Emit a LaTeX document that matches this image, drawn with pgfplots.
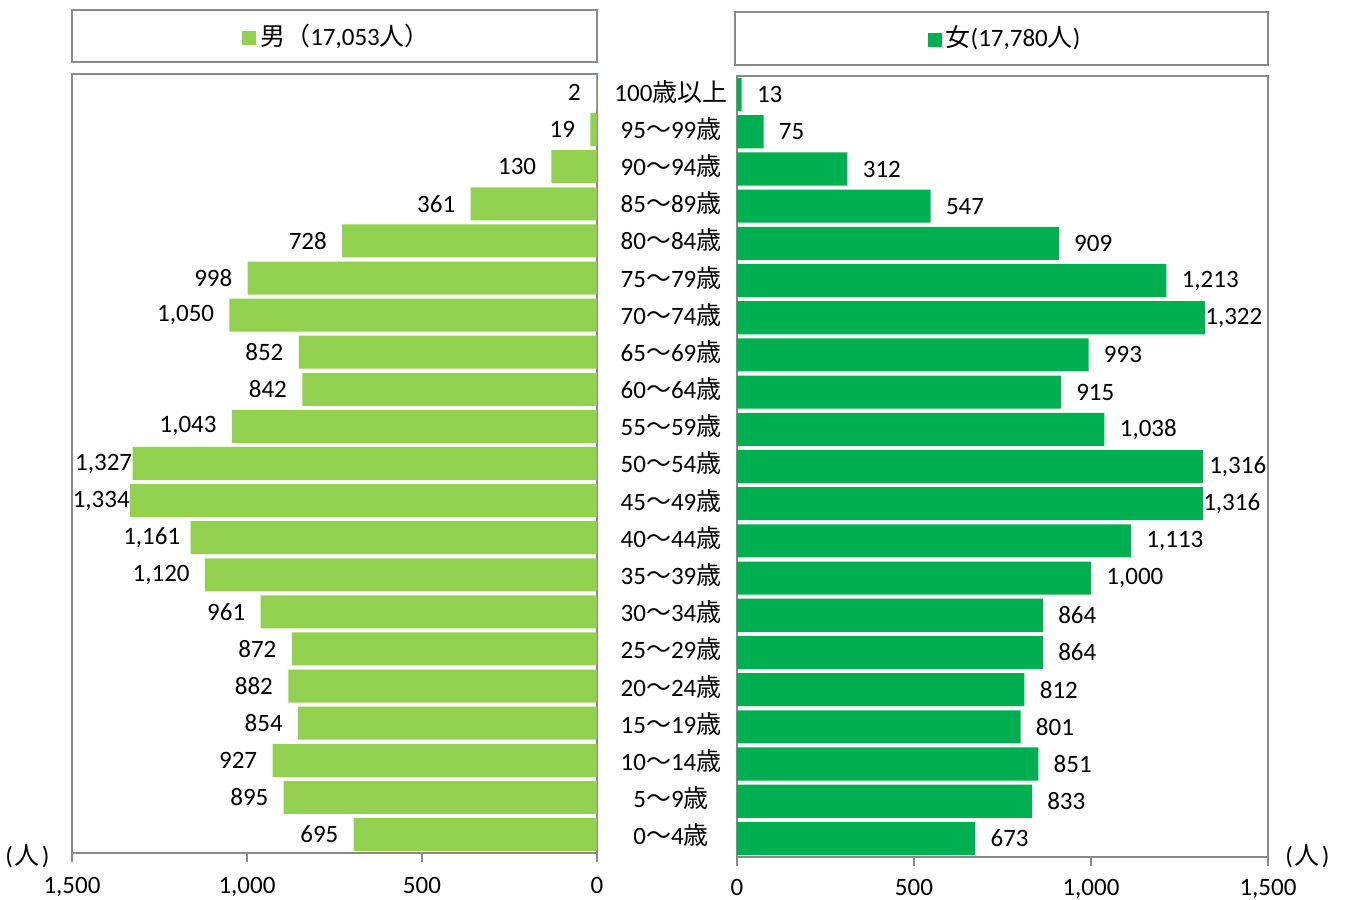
\documentclass[border=0pt]{standalone}
\usepackage{pgfplots}
\usepackage{pgfplotstable}
\pgfplotsset{compat=1.18}
\usepackage{fontspec}
\setmainfont{Carlito}
\newfontfamily\jp{Noto Sans CJK JP}
\definecolor{male}{HTML}{92D050}
\definecolor{female}{HTML}{00B050}
\definecolor{frame}{HTML}{898989}
\newcommand\f{\fontsize{12.5}{15}\selectfont}
\newcommand\sai{{\jp 歳}}
\newcommand\kara{{\jp ～}}

% idx 0 = 0-4 years, ..., 20 = 100 and over
\pgfplotstableread{
idx male female
0  695  673
1  895  833
2  927  851
3  854  801
4  882  812
5  872  864
6  961  864
7  1120 1000
8  1161 1113
9  1334 1316
10 1327 1316
11 1043 1038
12 842  915
13 852  993
14 1050 1322
15 998  1213
16 728  909
17 361  547
18 130  312
19 19   75
20 2    13
}\pop

\pgfplotsset{
  pyr/.style={
    scale only axis, xbar, bar width=0.89,
    ymin=-0.5, ymax=20.5, xmin=0, xmax=1500,
    axis line style={frame, line width=1pt},
    xtick={0,500,1000,1500}, xtick pos=bottom, tick align=outside,
    major tick length=4.5pt,
    xtick style={frame, line width=1pt},
    ytick style={draw=none},
    xticklabel style={font=\f, yshift=-3.5pt},
    /pgf/number format/1000 sep={,},
    /pgf/number format/assume math mode=true,
    nodes near coords,
    every node near coord/.append style={font=\f, inner sep=0pt, text=black},
  }
}

\begin{document}
\f
\begin{tikzpicture}[x=1pt,y=1pt]
\path[use as bounding box] (0,0) rectangle (672.5,450);

% headers
\draw[frame, line width=1pt] (36,419) rectangle (298.5,445);
\node[anchor=center] at (168,432) {\textcolor{male}{\rule{7pt}{7pt}}\,{\jp 男（}17,053{\jp 人）}};
\draw[frame, line width=1pt] (367.5,417.5) rectangle (634,444);
\node[anchor=center] at (502,431) {\textcolor{female}{\rule{7pt}{7pt}}\,{\jp 女}(17,780{\jp 人})};

% male
\begin{axis}[pyr, at={(36pt,23.5pt)}, anchor=south west,
  width=262.5pt, height=389.5pt, x dir=reverse, ytick=\empty]
\addplot[fill=male, draw=none, point meta=x,
  every node near coord/.append style={anchor=east, xshift=-7.5pt},
  coordinate style/.condition={\coordindex==9 || \coordindex==10}{xshift=7.5pt},
  coordinate style/.condition={\coordindex==8}{xshift=2.5pt}]
  table[x=male, y=idx] \pop;
\end{axis}

% female
\begin{axis}[pyr, at={(368.5pt,21.5pt)}, anchor=south west,
  width=265.5pt, height=390.5pt,
  xticklabel style={yshift=1pt},
  ytick={0,...,20},
  yticklabels={{0\kara4\sai},{5\kara9\sai},{10\kara14\sai},{15\kara19\sai},
    {20\kara24\sai},{25\kara29\sai},{30\kara34\sai},{35\kara39\sai},
    {40\kara44\sai},{45\kara49\sai},{50\kara54\sai},{55\kara59\sai},
    {60\kara64\sai},{65\kara69\sai},{70\kara74\sai},{75\kara79\sai},
    {80\kara84\sai},{85\kara89\sai},{90\kara94\sai},{95\kara99\sai},
    {100{\jp 歳以上}}},
  yticklabel style={font=\f, anchor=center, xshift=-28.5pt, yshift=1.5pt}]
\addplot[fill=female, draw=none, point meta=x,
  every node near coord/.append style={anchor=west, xshift=7.5pt},
  coordinate style/.condition={\coordindex==9 || \coordindex==14}{xshift=-7.5pt},
  coordinate style/.condition={\coordindex==10}{xshift=-4.5pt}]
  table[x=female, y=idx] \pop;
\end{axis}

\node[anchor=west, inner sep=0pt] at (2.5,22) {(\kern1pt{\jp 人}\kern1pt)};
\node[anchor=west, inner sep=0pt] at (642.5,22) {(\kern1pt{\jp 人}\kern1pt)};
\end{tikzpicture}
\end{document}
